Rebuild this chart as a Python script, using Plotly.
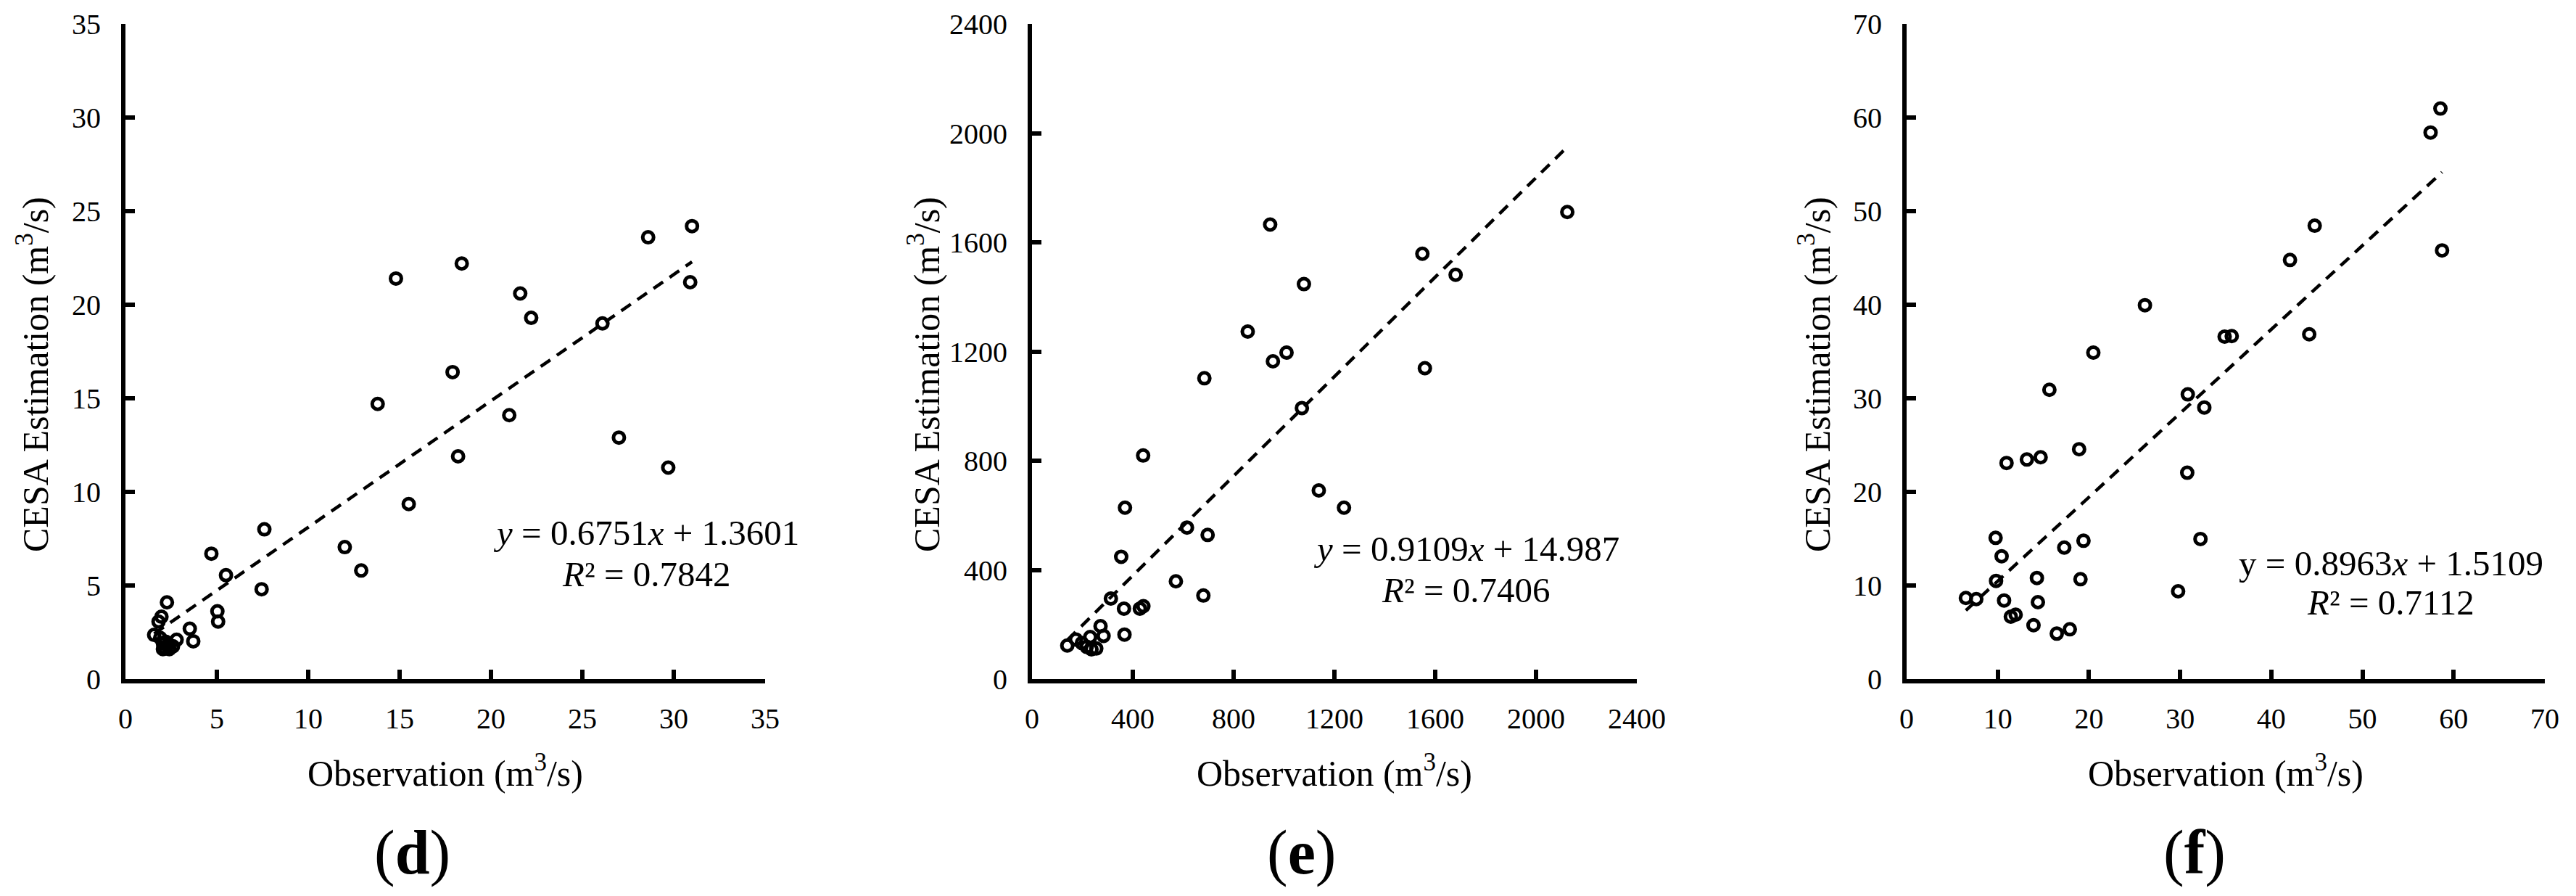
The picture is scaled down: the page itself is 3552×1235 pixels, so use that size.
import plotly.graph_objects as go

# panel (d)
d_obs = [31.0, 28.6, 18.4, 14.8, 30.9, 21.6, 22.2, 26.1, 17.9, 13.8, 21.0, 27.0, 18.2, 29.7,
         15.5, 7.6, 12.0, 4.7, 12.9, 5.5, 7.45, 2.27, 5.03, 5.07, 1.97, 1.81, 3.52, 3.71, 1.57,
         1.9, 2.05, 2.15, 2.05, 2.3, 2.6, 2.8, 2.4, 2.2]
d_est = [24.2, 23.6, 22.2, 21.4, 21.2, 20.6, 19.3, 19.0, 16.4, 14.7, 14.1, 12.9, 11.9, 11.3,
         9.35, 8.0, 7.05, 6.7, 5.8, 5.55, 4.8, 4.1, 3.62, 3.07, 3.33, 3.07, 2.69, 2.02, 2.36,
         2.2, 1.9, 1.65, 1.6, 1.8, 1.75, 2.1, 1.6, 2.0]

# panel (e)
e_obs = [2124, 945, 1549, 1681, 1079, 856, 1010, 956, 1559, 684, 1071, 441, 1138, 1238, 369,
         615, 697, 354, 571, 680, 313, 365, 428, 442, 272, 367, 284, 140, 174, 198, 231, 236,
         217, 255]
e_est = [1711, 1665, 1558, 1481, 1447, 1273, 1196, 1164, 1139, 1102, 993, 819, 691, 628, 628,
         555, 528, 448, 358, 306, 295, 258, 258, 267, 194, 163, 158, 123, 145, 132, 154, 109,
         118, 112]

# panel (f)
f_obs = [58.55, 57.47, 58.73, 44.76, 42.05, 44.16, 34.88, 35.66, 26.14, 20.48, 15.66, 30.84,
         32.65, 18.92, 14.7, 13.19, 10.96, 30.78, 9.76, 19.4, 32.23, 17.29, 10.42, 14.29, 19.07,
         9.81, 29.78, 6.5, 7.64, 10.69, 14.4, 11.43, 11.96, 13.92, 16.47, 17.9]
f_est = [60.96, 58.4, 45.8, 48.44, 44.78, 36.84, 36.59, 36.65, 39.95, 34.88, 30.91, 30.42,
         29.02, 24.56, 23.7, 23.46, 23.09, 22.05, 15.09, 14.78, 14.97, 14.05, 13.12, 10.8, 10.67,
         10.49, 9.38, 8.66, 8.55, 8.4, 8.22, 6.67, 6.88, 5.76, 4.86, 5.32]

# trendline coefficients (slope, intercept) and labels
fits = [(0.6751, 1.3601), (0.9109, 14.987), (0.8963, 1.5109)]
eq1 = ["<i>y</i> = 0.6751<i>x</i> + 1.3601", "<i>y</i> = 0.9109<i>x</i> + 14.987",
       "y = 0.8963<i>x</i> + 1.5109"]
eq2 = ["<i>R</i>² = 0.7842", "<i>R</i>² = 0.7406", "<i>R</i>² = 0.7112"]
panel_tags = ["d", "e", "f"]
ranges = [35, 2400, 70]
steps = [5, 400, 10]

W, H = 3552, 1235
FONT = "Liberation Serif"
doms = [(173, 1055), (1423, 2257), (2629, 3509)]
ytop, ybot = 33, 936
eq_pos = [(28.5, 7.8, 5.6), (1723, 478, 325), (53.1, 12.4, 8.2)]
ytitle_x = [45, 1274, 2502]
tag_x = [568, 1794, 3026]


def note(fig, text, x, y, size, xref="paper", yref="paper", angle=0):
    fig.add_annotation(x=x, y=y, xref=xref, yref=yref, text=text, textangle=angle,
                       xanchor="center", yanchor="middle", showarrow=False,
                       font=dict(family=FONT, size=size, color="black"))


fig = go.Figure()
data = [(d_obs, d_est), (e_obs, e_est), (f_obs, f_est)]
for i, (xs, ys) in enumerate(data):
    n = "" if i == 0 else str(i + 1)
    a, b = fits[i]
    x0, x1 = min(xs), max(xs)
    fig.add_trace(go.Scatter(x=[x0, x1], y=[a * x0 + b, a * x1 + b], mode="lines",
                             line=dict(color="black", width=4.5, dash="16px,11px"),
                             xaxis="x" + n, yaxis="y" + n, showlegend=False))
    fig.add_trace(go.Scatter(x=xs, y=ys, mode="markers",
                             marker=dict(symbol="circle-open", size=15, color="black",
                                         line=dict(width=5, color="black")),
                             xaxis="x" + n, yaxis="y" + n, showlegend=False))
    ax = dict(range=[0, ranges[i]], dtick=steps[i], tick0=0, showgrid=False, zeroline=False,
              showline=True, linecolor="black", linewidth=6, ticks="inside", ticklen=13,
              tickwidth=6, tickcolor="black", automargin=False,
              tickfont=dict(family=FONT, size=40, color="black"))
    fig.update_layout(**{
        "xaxis" + n: dict(ax, domain=[doms[i][0] / W, doms[i][1] / W], anchor="y" + n,
                          ticklabelstandoff=14),
        "yaxis" + n: dict(ax, domain=[1 - ybot / H, 1 - ytop / H], anchor="x" + n,
                          ticklabelstandoff=20),
    })
    xr, yr = "x" + n, "y" + n
    note(fig, eq1[i], eq_pos[i][0], eq_pos[i][1], 49, xr, yr)
    note(fig, eq2[i], eq_pos[i][0], eq_pos[i][2], 49, xr, yr)
    note(fig, "Observation (m<sup>3</sup>/s)", (doms[i][0] + doms[i][1]) / 2 / W,
         1 - 1062 / H, 50)
    note(fig, "CESA Estimation (m<sup>3</sup>/s)", ytitle_x[i] / W, 1 - 516 / H, 50,
         angle=-90)
    note(fig, "(<b>" + panel_tags[i] + "</b>)", tag_x[i] / W, 1 - 1175 / H, 86)

fig.update_layout(width=W, height=H, margin=dict(l=0, r=0, t=0, b=0),
                  paper_bgcolor="white", plot_bgcolor="white")
fig.write_html("out.html", config={"displayModeBar": False},
               post_script="document.body.style.margin = '0px';")
